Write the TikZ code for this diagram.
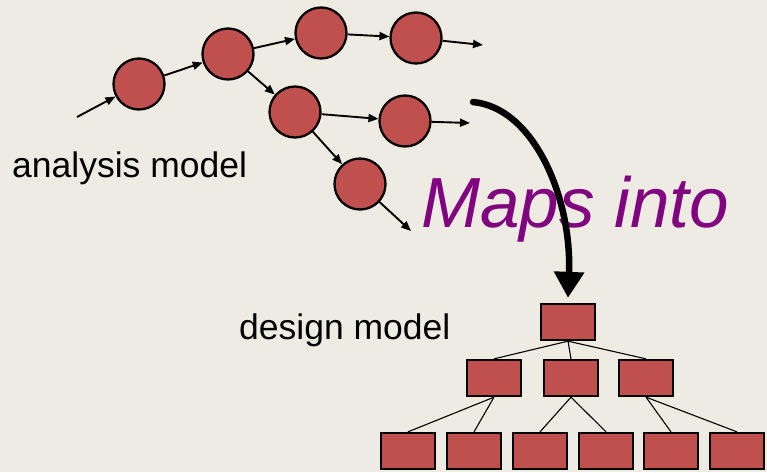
\documentclass[tikz,border=0pt]{standalone}
\usepackage{fontspec}
\setmainfont{Liberation Sans}
\usepackage{tikz}
\usetikzlibrary{positioning,arrows.meta}
\usepackage{xcolor}
\definecolor{slidebg}{RGB}{238,236,226}
\definecolor{objred}{RGB}{192,80,77}
\definecolor{mapviolet}{RGB}{128,0,128}
\newcommand{\bigtext}{\fontsize{35.5}{42}\selectfont}
\newcommand{\hugetext}{\fontsize{71}{80}\selectfont\itshape}

\begin{document}
\begin{tikzpicture}[
  x=1pt,y=-1pt,
  obj/.style={circle,draw=black,line width=2.3pt,fill=objred,
              inner sep=0pt,minimum size=51pt},
  mod/.style={rectangle,draw=black,line width=2.3pt,fill=objred,
              inner sep=0pt,minimum width=54pt,minimum height=36pt},
  msg/.style={-{Triangle[length=10pt,width=8pt]},line width=1.9pt},
  link/.style={line width=1.1pt},
  label/.style={anchor=base west,inner sep=0pt,font=\bigtext}
]
\fill[slidebg] (0,0) rectangle (767,472);
\useasboundingbox (0,0) rectangle (767,472);

% analysis model: objects passing messages
\node[obj] (c1) at (139,84) {};
\node[obj] (c2) at (228,54) {};
\node[obj] (c3) at (321,33) {};
\node[obj] (c4) at (416,38) {};
\node[obj] (c5) at (295,112) {};
\node[obj] (c6) at (405,121) {};
\node[obj] (c7) at (360,184) {};
\coordinate (in) at (77,117);
\coordinate (out4) at (483,45);
\coordinate (out6) at (470,123);
\coordinate (out7) at (411,231);

\draw[msg] (in) -- (c1);
\draw[msg] (c1) -- (c2);
\draw[msg] (c2) -- (c3);
\draw[msg] (c3) -- (c4);
\draw[msg] (c4) -- (out4);
\draw[msg] (c2) -- (c5);
\draw[msg] (c5) -- (c6);
\draw[msg] (c6) -- (out6);
\draw[msg] (c5) -- (c7);
\draw[msg] (c7) -- (out7);

% design model: module hierarchy
\node[mod] (t0) at (568,322) {};
\node[mod] (m1) at (494,378) {};
\node[mod] (m2) at (571,378) {};
\node[mod] (m3) at (646,378) {};
\node[mod] (b1) at (408,451) {};
\node[mod] (b2) at (474,451) {};
\node[mod] (b3) at (540,451) {};
\node[mod] (b4) at (606,451) {};
\node[mod] (b5) at (671,451) {};
\node[mod] (b6) at (737,451) {};

\draw[link] (t0.south) -- (m1.north);
\draw[link] (t0.south) -- (m2.north);
\draw[link] (t0.south) -- (m3.north);
\draw[link] (m1.south) -- (b1.north);
\draw[link] (m1.south) -- (b2.north);
\draw[link] (m2.south) -- (b3.north);
\draw[link] (m2.south) -- (b4.north);
\draw[link] (m3.south) -- (b5.north);
\draw[link] (m3.south) -- (b6.north);

\node[label] (analysis) at (12,177) {analysis model};
\node[label] (design) at (239,339) {design model};
\node[anchor=base west,inner sep=0pt,text=mapviolet,font=\hugetext] (maps) at (421,227) {Maps into};

% the mapping arrow
\coordinate (mapstart) at (473,102);
\draw[line width=6.5pt,line cap=round,-{Triangle[length=26pt,width=29pt]}]
  (mapstart) .. controls (535,108) and (572,200) .. ([yshift=5pt]t0.north);
\end{tikzpicture}
\end{document}
